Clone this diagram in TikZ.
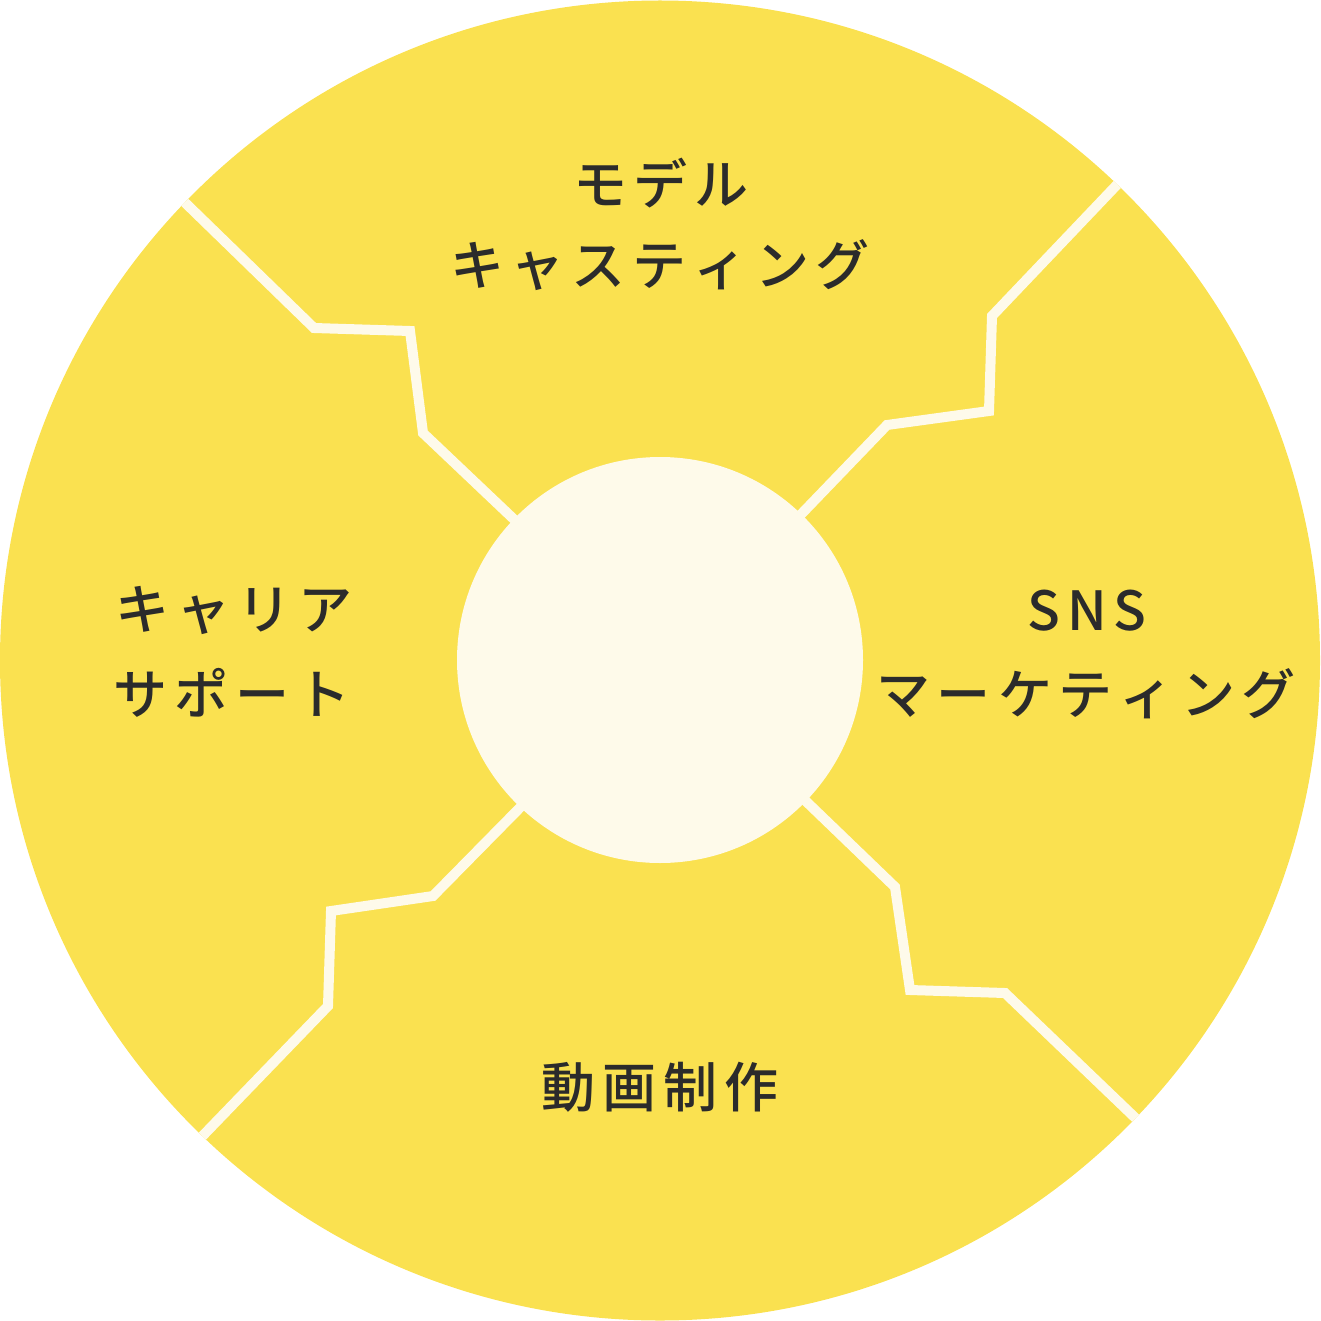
\documentclass[tikz,border=0pt]{standalone}
\usepackage{fontspec}
\newfontfamily\cjk{Noto Sans CJK JP Medium}
\definecolor{yel}{HTML}{FAE150}
\definecolor{crm}{HTML}{FEFAEA}
\definecolor{ink}{HTML}{2B2B2B}
\newcommand\tk{\kern7pt}
\begin{document}
\begin{tikzpicture}[x=1pt,y=-1pt,
  lbl/.style={font=\cjk\fontsize{54}{60}\selectfont, text=ink, inner sep=0pt, anchor=center},
  seam/.style={draw=crm, line width=10pt, line join=miter}]
\useasboundingbox (0,0) rectangle (1320,1321);
\fill[yel] (660,660.5) circle[radius=660];
\begin{scope}
  \clip (660,660.5) circle[radius=660];
  \draw[seam] (171,189) -- (314,328) -- (410,331) -- (423,433) -- (560,563);
  \draw[seam] (1131,170) -- (992,316) -- (989,411) -- (887,425) -- (760,557);
  \draw[seam] (189,1150) -- (328,1006) -- (331,911) -- (433,896) -- (560,767);
  \draw[seam] (1150,1132) -- (1005,993) -- (910,990) -- (895,887) -- (760,757);
\end{scope}
\fill[crm] (660,660) circle[radius=203];
\node[lbl] (t1) at (661,183) {モ\tk デ\tk ル};
\node[lbl] (t2) at (660,265) {キ\tk ャ\tk ス\tk テ\tk ィ\tk ン\tk グ};
\node[lbl] (r1) at (1087,611) {S\tk N\tk S};
\node[lbl] (r2) at (1086,694) {マ\tk ー\tk ケ\tk テ\tk ィ\tk ン\tk グ};
\node[lbl] (l1) at (234,610) {キ\tk ャ\tk リ\tk ア};
\node[lbl] (l2) at (232,693) {サ\tk ポ\tk ー\tk ト};
\node[lbl] (b1) at (660,1087) {動\tk 画\tk 制\tk 作};
\end{tikzpicture}
\end{document}
